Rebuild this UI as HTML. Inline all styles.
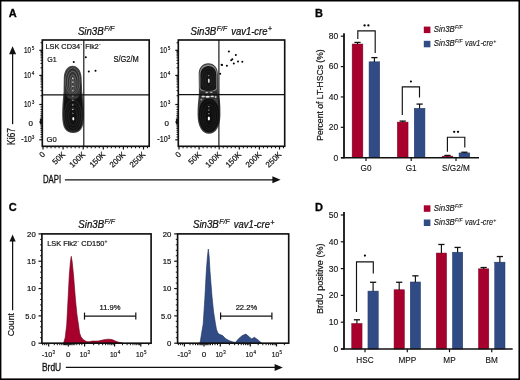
<!DOCTYPE html>
<html><head><meta charset="utf-8"><style>
html,body{margin:0;padding:0;background:#fff;}
#f{position:relative;width:520px;height:380px;overflow:hidden;background:#fff;}
#f svg{position:absolute;left:0;top:0;font-family:"Liberation Sans", sans-serif;filter:blur(0.4px);}
#f svg#b{filter:none;}
#bd{position:absolute;left:0;top:0;width:520px;height:380px;box-sizing:border-box;border:1px solid #000;box-shadow:inset 0.5px 0.5px 0 0.4px rgba(0,0,0,0.55), inset -1px -1px 0 0 rgba(0,0,0,0.8);}
</style></head><body><div id="f">
<svg width="520" height="380" viewBox="0 0 520 380">
<text x="8.80" y="16.80" font-size="11" font-weight="bold" fill="#000" stroke="#000" stroke-width="0.3">A</text>
<text x="314.90" y="16.70" font-size="11" font-weight="bold" fill="#000" stroke="#000" stroke-width="0.3">B</text>
<text x="8.80" y="210.90" font-size="11" font-weight="bold" fill="#000" stroke="#000" stroke-width="0.3">C</text>
<text x="314.90" y="210.80" font-size="11" font-weight="bold" fill="#000" stroke="#000" stroke-width="0.3">D</text>
<text x="77.90" y="34.50" font-size="10.1" font-style="italic" textLength="25.8" lengthAdjust="spacingAndGlyphs" fill="#111" stroke="#111" stroke-width="0.24">Sin3B</text>
<text x="104.20" y="30.50" font-size="6.8" font-style="italic" textLength="10.4" lengthAdjust="spacingAndGlyphs" fill="#111" stroke="#111" stroke-width="0.2">F/F</text>
<rect x="42.3" y="40.0" width="106.90" height="106.30" fill="none" stroke="#111" stroke-width="1.65"/>
<line x1="39.30" y1="50.30" x2="42.30" y2="50.30" stroke="#111" stroke-width="1.2"/>
<text x="24.10" y="52.90" font-size="8.6" textLength="7.0" lengthAdjust="spacingAndGlyphs" fill="#111" stroke="#111" stroke-width="0.2">10</text>
<text x="31.80" y="49.90" font-size="4.7" textLength="2.6" lengthAdjust="spacingAndGlyphs" fill="#111" stroke="#111" stroke-width="0.15">5</text>
<line x1="39.30" y1="75.40" x2="42.30" y2="75.40" stroke="#111" stroke-width="1.2"/>
<text x="24.10" y="78.00" font-size="8.6" textLength="7.0" lengthAdjust="spacingAndGlyphs" fill="#111" stroke="#111" stroke-width="0.2">10</text>
<text x="31.80" y="75.00" font-size="4.7" textLength="2.6" lengthAdjust="spacingAndGlyphs" fill="#111" stroke="#111" stroke-width="0.15">4</text>
<line x1="39.30" y1="104.50" x2="42.30" y2="104.50" stroke="#111" stroke-width="1.2"/>
<text x="24.10" y="107.10" font-size="8.6" textLength="7.0" lengthAdjust="spacingAndGlyphs" fill="#111" stroke="#111" stroke-width="0.2">10</text>
<text x="31.80" y="104.10" font-size="4.7" textLength="2.6" lengthAdjust="spacingAndGlyphs" fill="#111" stroke="#111" stroke-width="0.15">3</text>
<line x1="39.30" y1="122.00" x2="42.30" y2="122.00" stroke="#111" stroke-width="1.2"/>
<text x="30.70" y="125.50" font-size="8.0" text-anchor="middle" fill="#111" stroke="#111" stroke-width="0.2">0</text>
<rect x="39.90" y="118.8" width="2.4" height="5.8" fill="#111" opacity="0.95"/>
<line x1="39.30" y1="139.80" x2="42.30" y2="139.80" stroke="#111" stroke-width="1.2"/>
<text x="21.30" y="142.40" font-size="8.6" textLength="10.4" lengthAdjust="spacingAndGlyphs" fill="#111" stroke="#111" stroke-width="0.2">-10</text>
<text x="31.80" y="139.40" font-size="4.7" textLength="2.6" lengthAdjust="spacingAndGlyphs" fill="#111" stroke="#111" stroke-width="0.15">3</text>
<line x1="40.50" y1="95.74" x2="42.30" y2="95.74" stroke="#111" stroke-width="1.0"/>
<line x1="40.50" y1="90.62" x2="42.30" y2="90.62" stroke="#111" stroke-width="1.0"/>
<line x1="40.50" y1="86.98" x2="42.30" y2="86.98" stroke="#111" stroke-width="1.0"/>
<line x1="40.50" y1="84.16" x2="42.30" y2="84.16" stroke="#111" stroke-width="1.0"/>
<line x1="40.50" y1="81.86" x2="42.30" y2="81.86" stroke="#111" stroke-width="1.0"/>
<line x1="40.50" y1="79.91" x2="42.30" y2="79.91" stroke="#111" stroke-width="1.0"/>
<line x1="40.50" y1="78.22" x2="42.30" y2="78.22" stroke="#111" stroke-width="1.0"/>
<line x1="40.50" y1="76.73" x2="42.30" y2="76.73" stroke="#111" stroke-width="1.0"/>
<line x1="40.50" y1="67.84" x2="42.30" y2="67.84" stroke="#111" stroke-width="1.0"/>
<line x1="40.50" y1="63.42" x2="42.30" y2="63.42" stroke="#111" stroke-width="1.0"/>
<line x1="40.50" y1="60.29" x2="42.30" y2="60.29" stroke="#111" stroke-width="1.0"/>
<line x1="40.50" y1="57.86" x2="42.30" y2="57.86" stroke="#111" stroke-width="1.0"/>
<line x1="40.50" y1="55.87" x2="42.30" y2="55.87" stroke="#111" stroke-width="1.0"/>
<line x1="40.50" y1="54.19" x2="42.30" y2="54.19" stroke="#111" stroke-width="1.0"/>
<line x1="40.50" y1="52.73" x2="42.30" y2="52.73" stroke="#111" stroke-width="1.0"/>
<line x1="40.50" y1="51.45" x2="42.30" y2="51.45" stroke="#111" stroke-width="1.0"/>
<line x1="40.50" y1="42.74" x2="42.30" y2="42.74" stroke="#111" stroke-width="1.0"/>
<line x1="40.50" y1="107.00" x2="42.30" y2="107.00" stroke="#111" stroke-width="1.0"/>
<line x1="40.50" y1="109.50" x2="42.30" y2="109.50" stroke="#111" stroke-width="1.0"/>
<line x1="40.50" y1="111.80" x2="42.30" y2="111.80" stroke="#111" stroke-width="1.0"/>
<line x1="40.50" y1="113.80" x2="42.30" y2="113.80" stroke="#111" stroke-width="1.0"/>
<line x1="40.50" y1="115.50" x2="42.30" y2="115.50" stroke="#111" stroke-width="1.0"/>
<line x1="40.50" y1="117.00" x2="42.30" y2="117.00" stroke="#111" stroke-width="1.0"/>
<line x1="40.50" y1="118.20" x2="42.30" y2="118.20" stroke="#111" stroke-width="1.0"/>
<line x1="40.50" y1="125.80" x2="42.30" y2="125.80" stroke="#111" stroke-width="1.0"/>
<line x1="40.50" y1="127.00" x2="42.30" y2="127.00" stroke="#111" stroke-width="1.0"/>
<line x1="40.50" y1="128.50" x2="42.30" y2="128.50" stroke="#111" stroke-width="1.0"/>
<line x1="40.50" y1="130.20" x2="42.30" y2="130.20" stroke="#111" stroke-width="1.0"/>
<line x1="40.50" y1="132.20" x2="42.30" y2="132.20" stroke="#111" stroke-width="1.0"/>
<line x1="40.50" y1="134.50" x2="42.30" y2="134.50" stroke="#111" stroke-width="1.0"/>
<line x1="40.50" y1="137.00" x2="42.30" y2="137.00" stroke="#111" stroke-width="1.0"/>
<line x1="43.00" y1="146.30" x2="43.00" y2="149.50" stroke="#111" stroke-width="1.2"/>
<line x1="47.02" y1="146.30" x2="47.02" y2="148.30" stroke="#111" stroke-width="1.0"/>
<line x1="51.04" y1="146.30" x2="51.04" y2="148.30" stroke="#111" stroke-width="1.0"/>
<line x1="55.06" y1="146.30" x2="55.06" y2="148.30" stroke="#111" stroke-width="1.0"/>
<line x1="59.08" y1="146.30" x2="59.08" y2="148.30" stroke="#111" stroke-width="1.0"/>
<line x1="63.10" y1="146.30" x2="63.10" y2="149.50" stroke="#111" stroke-width="1.2"/>
<line x1="67.12" y1="146.30" x2="67.12" y2="148.30" stroke="#111" stroke-width="1.0"/>
<line x1="71.14" y1="146.30" x2="71.14" y2="148.30" stroke="#111" stroke-width="1.0"/>
<line x1="75.16" y1="146.30" x2="75.16" y2="148.30" stroke="#111" stroke-width="1.0"/>
<line x1="79.18" y1="146.30" x2="79.18" y2="148.30" stroke="#111" stroke-width="1.0"/>
<line x1="83.20" y1="146.30" x2="83.20" y2="149.50" stroke="#111" stroke-width="1.2"/>
<line x1="87.22" y1="146.30" x2="87.22" y2="148.30" stroke="#111" stroke-width="1.0"/>
<line x1="91.24" y1="146.30" x2="91.24" y2="148.30" stroke="#111" stroke-width="1.0"/>
<line x1="95.26" y1="146.30" x2="95.26" y2="148.30" stroke="#111" stroke-width="1.0"/>
<line x1="99.28" y1="146.30" x2="99.28" y2="148.30" stroke="#111" stroke-width="1.0"/>
<line x1="103.30" y1="146.30" x2="103.30" y2="149.50" stroke="#111" stroke-width="1.2"/>
<line x1="107.32" y1="146.30" x2="107.32" y2="148.30" stroke="#111" stroke-width="1.0"/>
<line x1="111.34" y1="146.30" x2="111.34" y2="148.30" stroke="#111" stroke-width="1.0"/>
<line x1="115.36" y1="146.30" x2="115.36" y2="148.30" stroke="#111" stroke-width="1.0"/>
<line x1="119.38" y1="146.30" x2="119.38" y2="148.30" stroke="#111" stroke-width="1.0"/>
<line x1="123.40" y1="146.30" x2="123.40" y2="149.50" stroke="#111" stroke-width="1.2"/>
<line x1="127.42" y1="146.30" x2="127.42" y2="148.30" stroke="#111" stroke-width="1.0"/>
<line x1="131.44" y1="146.30" x2="131.44" y2="148.30" stroke="#111" stroke-width="1.0"/>
<line x1="135.46" y1="146.30" x2="135.46" y2="148.30" stroke="#111" stroke-width="1.0"/>
<line x1="139.48" y1="146.30" x2="139.48" y2="148.30" stroke="#111" stroke-width="1.0"/>
<line x1="143.50" y1="146.30" x2="143.50" y2="149.50" stroke="#111" stroke-width="1.2"/>
<line x1="147.52" y1="146.30" x2="147.52" y2="148.30" stroke="#111" stroke-width="1.0"/>
<text x="45.60" y="154.90" font-size="8.0" text-anchor="end" transform="rotate(-45 45.60 154.90)" fill="#111" stroke="#111" stroke-width="0.2">0</text>
<text x="65.70" y="154.90" font-size="8.0" text-anchor="end" transform="rotate(-45 65.70 154.90)" fill="#111" stroke="#111" stroke-width="0.2">50K</text>
<text x="85.80" y="154.90" font-size="8.0" text-anchor="end" transform="rotate(-45 85.80 154.90)" fill="#111" stroke="#111" stroke-width="0.2">100K</text>
<text x="105.90" y="154.90" font-size="8.0" text-anchor="end" transform="rotate(-45 105.90 154.90)" fill="#111" stroke="#111" stroke-width="0.2">150K</text>
<text x="126.00" y="154.90" font-size="8.0" text-anchor="end" transform="rotate(-45 126.00 154.90)" fill="#111" stroke="#111" stroke-width="0.2">200K</text>
<text x="146.10" y="154.90" font-size="8.0" text-anchor="end" transform="rotate(-45 146.10 154.90)" fill="#111" stroke="#111" stroke-width="0.2">250K</text>
<text x="190.50" y="34.50" font-size="10.1" font-style="italic" textLength="25.8" lengthAdjust="spacingAndGlyphs" fill="#111" stroke="#111" stroke-width="0.24">Sin3B</text>
<text x="216.80" y="30.50" font-size="6.8" font-style="italic" textLength="10.4" lengthAdjust="spacingAndGlyphs" fill="#111" stroke="#111" stroke-width="0.2">F/F</text>
<text x="231.30" y="34.50" font-size="10.1" font-style="italic" textLength="36.2" lengthAdjust="spacingAndGlyphs" fill="#111" stroke="#111" stroke-width="0.24">vav1-cre</text>
<text x="267.90" y="31.20" font-size="6.6" font-style="italic" fill="#111" stroke="#111" stroke-width="0.25">+</text>
<rect x="178.3" y="40.0" width="106.40" height="106.30" fill="none" stroke="#111" stroke-width="1.65"/>
<line x1="175.30" y1="50.30" x2="178.30" y2="50.30" stroke="#111" stroke-width="1.2"/>
<text x="160.10" y="52.90" font-size="8.6" textLength="7.0" lengthAdjust="spacingAndGlyphs" fill="#111" stroke="#111" stroke-width="0.2">10</text>
<text x="167.80" y="49.90" font-size="4.7" textLength="2.6" lengthAdjust="spacingAndGlyphs" fill="#111" stroke="#111" stroke-width="0.15">5</text>
<line x1="175.30" y1="75.40" x2="178.30" y2="75.40" stroke="#111" stroke-width="1.2"/>
<text x="160.10" y="78.00" font-size="8.6" textLength="7.0" lengthAdjust="spacingAndGlyphs" fill="#111" stroke="#111" stroke-width="0.2">10</text>
<text x="167.80" y="75.00" font-size="4.7" textLength="2.6" lengthAdjust="spacingAndGlyphs" fill="#111" stroke="#111" stroke-width="0.15">4</text>
<line x1="175.30" y1="104.50" x2="178.30" y2="104.50" stroke="#111" stroke-width="1.2"/>
<text x="160.10" y="107.10" font-size="8.6" textLength="7.0" lengthAdjust="spacingAndGlyphs" fill="#111" stroke="#111" stroke-width="0.2">10</text>
<text x="167.80" y="104.10" font-size="4.7" textLength="2.6" lengthAdjust="spacingAndGlyphs" fill="#111" stroke="#111" stroke-width="0.15">3</text>
<line x1="175.30" y1="122.00" x2="178.30" y2="122.00" stroke="#111" stroke-width="1.2"/>
<text x="166.70" y="125.50" font-size="8.0" text-anchor="middle" fill="#111" stroke="#111" stroke-width="0.2">0</text>
<rect x="175.90" y="118.8" width="2.4" height="5.8" fill="#111" opacity="0.95"/>
<line x1="175.30" y1="139.80" x2="178.30" y2="139.80" stroke="#111" stroke-width="1.2"/>
<text x="157.30" y="142.40" font-size="8.6" textLength="10.4" lengthAdjust="spacingAndGlyphs" fill="#111" stroke="#111" stroke-width="0.2">-10</text>
<text x="167.80" y="139.40" font-size="4.7" textLength="2.6" lengthAdjust="spacingAndGlyphs" fill="#111" stroke="#111" stroke-width="0.15">3</text>
<line x1="176.50" y1="95.74" x2="178.30" y2="95.74" stroke="#111" stroke-width="1.0"/>
<line x1="176.50" y1="90.62" x2="178.30" y2="90.62" stroke="#111" stroke-width="1.0"/>
<line x1="176.50" y1="86.98" x2="178.30" y2="86.98" stroke="#111" stroke-width="1.0"/>
<line x1="176.50" y1="84.16" x2="178.30" y2="84.16" stroke="#111" stroke-width="1.0"/>
<line x1="176.50" y1="81.86" x2="178.30" y2="81.86" stroke="#111" stroke-width="1.0"/>
<line x1="176.50" y1="79.91" x2="178.30" y2="79.91" stroke="#111" stroke-width="1.0"/>
<line x1="176.50" y1="78.22" x2="178.30" y2="78.22" stroke="#111" stroke-width="1.0"/>
<line x1="176.50" y1="76.73" x2="178.30" y2="76.73" stroke="#111" stroke-width="1.0"/>
<line x1="176.50" y1="67.84" x2="178.30" y2="67.84" stroke="#111" stroke-width="1.0"/>
<line x1="176.50" y1="63.42" x2="178.30" y2="63.42" stroke="#111" stroke-width="1.0"/>
<line x1="176.50" y1="60.29" x2="178.30" y2="60.29" stroke="#111" stroke-width="1.0"/>
<line x1="176.50" y1="57.86" x2="178.30" y2="57.86" stroke="#111" stroke-width="1.0"/>
<line x1="176.50" y1="55.87" x2="178.30" y2="55.87" stroke="#111" stroke-width="1.0"/>
<line x1="176.50" y1="54.19" x2="178.30" y2="54.19" stroke="#111" stroke-width="1.0"/>
<line x1="176.50" y1="52.73" x2="178.30" y2="52.73" stroke="#111" stroke-width="1.0"/>
<line x1="176.50" y1="51.45" x2="178.30" y2="51.45" stroke="#111" stroke-width="1.0"/>
<line x1="176.50" y1="42.74" x2="178.30" y2="42.74" stroke="#111" stroke-width="1.0"/>
<line x1="176.50" y1="107.00" x2="178.30" y2="107.00" stroke="#111" stroke-width="1.0"/>
<line x1="176.50" y1="109.50" x2="178.30" y2="109.50" stroke="#111" stroke-width="1.0"/>
<line x1="176.50" y1="111.80" x2="178.30" y2="111.80" stroke="#111" stroke-width="1.0"/>
<line x1="176.50" y1="113.80" x2="178.30" y2="113.80" stroke="#111" stroke-width="1.0"/>
<line x1="176.50" y1="115.50" x2="178.30" y2="115.50" stroke="#111" stroke-width="1.0"/>
<line x1="176.50" y1="117.00" x2="178.30" y2="117.00" stroke="#111" stroke-width="1.0"/>
<line x1="176.50" y1="118.20" x2="178.30" y2="118.20" stroke="#111" stroke-width="1.0"/>
<line x1="176.50" y1="125.80" x2="178.30" y2="125.80" stroke="#111" stroke-width="1.0"/>
<line x1="176.50" y1="127.00" x2="178.30" y2="127.00" stroke="#111" stroke-width="1.0"/>
<line x1="176.50" y1="128.50" x2="178.30" y2="128.50" stroke="#111" stroke-width="1.0"/>
<line x1="176.50" y1="130.20" x2="178.30" y2="130.20" stroke="#111" stroke-width="1.0"/>
<line x1="176.50" y1="132.20" x2="178.30" y2="132.20" stroke="#111" stroke-width="1.0"/>
<line x1="176.50" y1="134.50" x2="178.30" y2="134.50" stroke="#111" stroke-width="1.0"/>
<line x1="176.50" y1="137.00" x2="178.30" y2="137.00" stroke="#111" stroke-width="1.0"/>
<line x1="179.00" y1="146.30" x2="179.00" y2="149.50" stroke="#111" stroke-width="1.2"/>
<line x1="183.02" y1="146.30" x2="183.02" y2="148.30" stroke="#111" stroke-width="1.0"/>
<line x1="187.04" y1="146.30" x2="187.04" y2="148.30" stroke="#111" stroke-width="1.0"/>
<line x1="191.06" y1="146.30" x2="191.06" y2="148.30" stroke="#111" stroke-width="1.0"/>
<line x1="195.08" y1="146.30" x2="195.08" y2="148.30" stroke="#111" stroke-width="1.0"/>
<line x1="199.10" y1="146.30" x2="199.10" y2="149.50" stroke="#111" stroke-width="1.2"/>
<line x1="203.12" y1="146.30" x2="203.12" y2="148.30" stroke="#111" stroke-width="1.0"/>
<line x1="207.14" y1="146.30" x2="207.14" y2="148.30" stroke="#111" stroke-width="1.0"/>
<line x1="211.16" y1="146.30" x2="211.16" y2="148.30" stroke="#111" stroke-width="1.0"/>
<line x1="215.18" y1="146.30" x2="215.18" y2="148.30" stroke="#111" stroke-width="1.0"/>
<line x1="219.20" y1="146.30" x2="219.20" y2="149.50" stroke="#111" stroke-width="1.2"/>
<line x1="223.22" y1="146.30" x2="223.22" y2="148.30" stroke="#111" stroke-width="1.0"/>
<line x1="227.24" y1="146.30" x2="227.24" y2="148.30" stroke="#111" stroke-width="1.0"/>
<line x1="231.26" y1="146.30" x2="231.26" y2="148.30" stroke="#111" stroke-width="1.0"/>
<line x1="235.28" y1="146.30" x2="235.28" y2="148.30" stroke="#111" stroke-width="1.0"/>
<line x1="239.30" y1="146.30" x2="239.30" y2="149.50" stroke="#111" stroke-width="1.2"/>
<line x1="243.32" y1="146.30" x2="243.32" y2="148.30" stroke="#111" stroke-width="1.0"/>
<line x1="247.34" y1="146.30" x2="247.34" y2="148.30" stroke="#111" stroke-width="1.0"/>
<line x1="251.36" y1="146.30" x2="251.36" y2="148.30" stroke="#111" stroke-width="1.0"/>
<line x1="255.38" y1="146.30" x2="255.38" y2="148.30" stroke="#111" stroke-width="1.0"/>
<line x1="259.40" y1="146.30" x2="259.40" y2="149.50" stroke="#111" stroke-width="1.2"/>
<line x1="263.42" y1="146.30" x2="263.42" y2="148.30" stroke="#111" stroke-width="1.0"/>
<line x1="267.44" y1="146.30" x2="267.44" y2="148.30" stroke="#111" stroke-width="1.0"/>
<line x1="271.46" y1="146.30" x2="271.46" y2="148.30" stroke="#111" stroke-width="1.0"/>
<line x1="275.48" y1="146.30" x2="275.48" y2="148.30" stroke="#111" stroke-width="1.0"/>
<line x1="279.50" y1="146.30" x2="279.50" y2="149.50" stroke="#111" stroke-width="1.2"/>
<line x1="283.52" y1="146.30" x2="283.52" y2="148.30" stroke="#111" stroke-width="1.0"/>
<text x="181.60" y="154.90" font-size="8.0" text-anchor="end" transform="rotate(-45 181.60 154.90)" fill="#111" stroke="#111" stroke-width="0.2">0</text>
<text x="201.70" y="154.90" font-size="8.0" text-anchor="end" transform="rotate(-45 201.70 154.90)" fill="#111" stroke="#111" stroke-width="0.2">50K</text>
<text x="221.80" y="154.90" font-size="8.0" text-anchor="end" transform="rotate(-45 221.80 154.90)" fill="#111" stroke="#111" stroke-width="0.2">100K</text>
<text x="241.90" y="154.90" font-size="8.0" text-anchor="end" transform="rotate(-45 241.90 154.90)" fill="#111" stroke="#111" stroke-width="0.2">150K</text>
<text x="262.00" y="154.90" font-size="8.0" text-anchor="end" transform="rotate(-45 262.00 154.90)" fill="#111" stroke="#111" stroke-width="0.2">200K</text>
<text x="282.10" y="154.90" font-size="8.0" text-anchor="end" transform="rotate(-45 282.10 154.90)" fill="#111" stroke="#111" stroke-width="0.2">250K</text>
<text x="45.40" y="49.20" font-size="7.4" textLength="34.8" lengthAdjust="spacingAndGlyphs" fill="#111" stroke="#111" stroke-width="0.2">LSK CD34</text>
<text x="80.40" y="46.00" font-size="5" fill="#111" stroke="#111" stroke-width="0.15">-</text>
<text x="85.30" y="49.20" font-size="7.4" textLength="13.3" lengthAdjust="spacingAndGlyphs" fill="#111" stroke="#111" stroke-width="0.2">Flk2</text>
<text x="98.90" y="46.00" font-size="5" fill="#111" stroke="#111" stroke-width="0.15">-</text>
<text x="47.20" y="62.30" font-size="8.0" textLength="9.4" lengthAdjust="spacingAndGlyphs" fill="#111" stroke="#111" stroke-width="0.2">G1</text>
<text x="113.50" y="62.30" font-size="8.3" textLength="25.3" lengthAdjust="spacingAndGlyphs" fill="#111" stroke="#111" stroke-width="0.2">S/G2/M</text>
<text x="46.60" y="141.70" font-size="8.0" textLength="10.2" lengthAdjust="spacingAndGlyphs" fill="#111" stroke="#111" stroke-width="0.2">G0</text>
<g>
<path d="M72.6,65.8 C77.4,65.8 81.4,70.5 81.6,78 L82.2,92 C83.6,99 84.0,107 84.0,115 C84.0,128.5 80.5,133.0 73.2,133.0 C65.9,133.0 62.2,128.5 62.2,115 C62.2,107 62.8,99 63.6,92 L63.8,78 C64.0,70.5 67.8,65.8 72.6,65.8 Z" fill="#444"/>
<path d="M72.6,67.2 C76.6,67.2 80.2,71.3 80.4,78 L80.9,92 C82.3,99 82.8,107 82.8,115 C82.8,127.5 79.6,131.8 73.2,131.8 C66.8,131.8 63.4,127.5 63.4,115 C63.4,107 64.0,99 64.9,92 L65.0,78 C65.2,71.3 68.6,67.2 72.6,67.2 Z" fill="#111"/>
<path d="M72.6,67.6 C76.6,67.6 80.0,71.5 80.1,78.5 L80.4,92 C80.4,96.5 76.8,99.5 72.7,99.5 C68.8,99.5 65.2,96.5 65.2,92 L65.4,78.5 C65.5,71.5 68.6,67.6 72.6,67.6 Z" fill="#3a3a3a"/>
<ellipse cx="72.7" cy="81" rx="7.3" ry="13.4" fill="none" stroke="#8a8a8a" stroke-width="0.5"/>
<ellipse cx="72.7" cy="81.6" rx="6.3" ry="12.2" fill="none" stroke="#222" stroke-width="0.6"/>
<ellipse cx="72.7" cy="82.2" rx="5.3" ry="11" fill="none" stroke="#888" stroke-width="0.5"/>
<ellipse cx="72.7" cy="82.8" rx="4.3" ry="9.8" fill="none" stroke="#222" stroke-width="0.6"/>
<ellipse cx="72.7" cy="83.4" rx="3.3" ry="8.6" fill="none" stroke="#8a8a8a" stroke-width="0.5"/>
<ellipse cx="72.7" cy="84" rx="2.3" ry="7.4" fill="none" stroke="#333" stroke-width="0.5"/>
<ellipse cx="72.7" cy="84.6" rx="1.4" ry="6.2" fill="none" stroke="#999" stroke-width="0.4"/>
<ellipse cx="73" cy="115.5" rx="8.6" ry="15.5" fill="none" stroke="#3a3a3a" stroke-width="0.6"/>
<ellipse cx="73" cy="116" rx="6.6" ry="12.5" fill="none" stroke="#333" stroke-width="0.5"/>
<ellipse cx="73" cy="116.5" rx="4.4" ry="9" fill="none" stroke="#3a3a3a" stroke-width="0.5"/>
<path d="M72.85,77.20 l0.9,1.00 l-0.9,1.00 l-0.9,-1.00 Z" fill="#f4f4f4"/>
<path d="M72.85,81.20 l0.9,0.90 l-0.9,0.90 l-0.9,-0.90 Z" fill="#e6e6e6"/>
<path d="M72.85,85.50 l0.9,0.80 l-0.9,0.80 l-0.9,-0.80 Z" fill="#ddd"/>
<path d="M72.85,90.00 l0.9,0.80 l-0.9,0.80 l-0.9,-0.80 Z" fill="#d0d0d0"/>
<path d="M72.85,95.00 l0.9,0.90 l-0.9,0.90 l-0.9,-0.90 Z" fill="#bbb"/>
<path d="M72.85,99.50 l0.9,0.80 l-0.9,0.80 l-0.9,-0.80 Z" fill="#aaa"/>
<path d="M72.85,104.00 l0.9,0.90 l-0.9,0.90 l-0.9,-0.90 Z" fill="#bbb"/>
<path d="M72.85,108.50 l0.9,0.90 l-0.9,0.90 l-0.9,-0.90 Z" fill="#ccc"/>
<path d="M72.85,112.50 l0.9,0.80 l-0.9,0.80 l-0.9,-0.80 Z" fill="#999"/>
<ellipse cx="73.3" cy="118.7" rx="1.0" ry="1.8" fill="#fff"/>
</g>
<g>
<path d="M208.3,63.2 C214,63.2 217.9,67.3 217.9,74 L218.2,90 C218.6,94 219.4,97 219.9,101 C220.4,105 220.4,110 220.4,115 C220.4,126.5 215.6,133.8 209,133.8 C202.4,133.8 197.6,126.5 197.6,115 C197.6,110 197.7,105 198.2,101 C198.6,97 199.0,94 198.9,90 L198.7,74 C198.7,67.3 202.6,63.2 208.3,63.2 Z" fill="#3c3c3c"/>
<path d="M208.4,64.4 C213.6,64.4 217.1,68.3 217.1,74.5 L217.1,88 C217.1,90.3 213.6,91.8 208.4,91.8 C203.2,91.8 199.5,90.3 199.5,88 L199.5,74.5 C199.5,68.3 203.2,64.4 208.4,64.4 Z" fill="#8a8a8a"/>
<path d="M208.5,66.0 C213.0,66.0 216.3,69.5 216.3,75 L216.3,87.5 C216.3,89.8 213.0,91.0 208.5,91.0 C204.0,91.0 200.4,89.8 200.4,87.5 L200.4,75 C200.4,69.5 204.0,66.0 208.5,66.0 Z" fill="#141414"/>
<path d="M208.8,98.6 C214.8,98.6 219.2,104.5 219.2,114.8 C219.2,125.8 214.8,132.4 209,132.4 C203.2,132.4 198.8,125.8 198.8,114.8 C198.8,104.5 202.9,98.6 208.8,98.6 Z" fill="#0e0e0e"/>
<path d="M200.2,91.5 L217.0,91.5 L218.0,99 L199.6,99 Z" fill="#2a2a2a"/>
<ellipse cx="203.2" cy="96.4" rx="1.8" ry="1.0" fill="#d8d8d8"/>
<ellipse cx="207.6" cy="96.8" rx="2.2" ry="1.0" fill="#f0f0f0"/>
<ellipse cx="212.2" cy="96.4" rx="1.8" ry="0.9" fill="#e0e0e0"/>
<ellipse cx="215.6" cy="97.0" rx="1.0" ry="1.2" fill="#bbb"/>
<ellipse cx="206.8" cy="92.6" rx="1.6" ry="0.7" fill="#c8c8c8"/>
<ellipse cx="211.2" cy="92.4" rx="1.4" ry="0.7" fill="#aaa"/>
<ellipse cx="201.4" cy="99.6" rx="1.0" ry="1.0" fill="#999"/>
<ellipse cx="208.5" cy="79.5" rx="6.8" ry="11.5" fill="none" stroke="#2e2e2e" stroke-width="0.55"/>
<ellipse cx="208.5" cy="80" rx="4.8" ry="9" fill="none" stroke="#282828" stroke-width="0.55"/>
<ellipse cx="208.5" cy="80.5" rx="3.0" ry="6.5" fill="none" stroke="#2e2e2e" stroke-width="0.55"/>
<ellipse cx="209" cy="115.5" rx="8.6" ry="15.0" fill="none" stroke="#262626" stroke-width="0.55"/>
<ellipse cx="209" cy="116.5" rx="6.4" ry="12" fill="none" stroke="#2a2a2a" stroke-width="0.55"/>
<ellipse cx="209" cy="117" rx="4.2" ry="8.5" fill="none" stroke="#262626" stroke-width="0.55"/>
<ellipse cx="208.8" cy="80.8" rx="0.9" ry="2.2" fill="#ddd"/>
<rect x="208.2" y="75" width="1.1" height="1.3" fill="#888"/>
<rect x="208.3" y="106" width="1.1" height="1.3" fill="#999"/>
<rect x="208.3" y="109.5" width="1.1" height="1.3" fill="#999"/>
<rect x="208.3" y="113" width="1.1" height="1.3" fill="#999"/>
<ellipse cx="208.9" cy="118.4" rx="1.1" ry="2.0" fill="#fff"/>
</g>
<line x1="83.80" y1="40.00" x2="83.80" y2="146.30" stroke="#111" stroke-width="1.15"/>
<line x1="42.30" y1="94.80" x2="149.20" y2="94.80" stroke="#111" stroke-width="1.15"/>
<line x1="218.90" y1="40.00" x2="218.90" y2="146.30" stroke="#111" stroke-width="1.15"/>
<line x1="178.30" y1="94.60" x2="284.70" y2="94.60" stroke="#111" stroke-width="1.15"/>
<circle cx="73.75" cy="61.9" r="1.0" fill="#000"/>
<circle cx="85.8" cy="57.3" r="1.0" fill="#000"/>
<circle cx="88.8" cy="71.6" r="1.0" fill="#000"/>
<circle cx="95.5" cy="70.7" r="1.0" fill="#000"/>
<circle cx="228.9" cy="51.5" r="1.0" fill="#000"/>
<circle cx="235.8" cy="55.1" r="1.0" fill="#000"/>
<circle cx="232.3" cy="59.2" r="1.0" fill="#000"/>
<circle cx="231.2" cy="60.3" r="1.0" fill="#000"/>
<circle cx="238" cy="61.5" r="1.0" fill="#000"/>
<circle cx="242.3" cy="61.8" r="1.0" fill="#000"/>
<circle cx="233.8" cy="63.4" r="1.0" fill="#000"/>
<circle cx="222" cy="65.1" r="1.0" fill="#000"/>
<circle cx="226.9" cy="65.8" r="1.0" fill="#000"/>
<circle cx="221.6" cy="64.8" r="1.0" fill="#000"/>
<circle cx="220.2" cy="73.8" r="1.0" fill="#000"/>
<line x1="12.60" y1="53.00" x2="12.60" y2="124.20" stroke="#111" stroke-width="1.25"/>
<path d="M12.6,46.3 L16.1,54.3 L9.1,54.3 Z" fill="#111"/>
<text x="15.10" y="145.00" font-size="10.0" textLength="17.1" lengthAdjust="spacingAndGlyphs" transform="rotate(-90 15.10 145.00)" fill="#111" stroke="#111" stroke-width="0.2">Ki67</text>
<text x="43.00" y="182.70" font-size="10.3" textLength="18.1" lengthAdjust="spacingAndGlyphs" fill="#111" stroke="#111" stroke-width="0.3">DAPI</text>
<line x1="64.90" y1="179.80" x2="273.00" y2="179.80" stroke="#111" stroke-width="1.25"/>
<path d="M280.6,179.8 L272.4,176.3 L272.4,183.3 Z" fill="#111"/>
<text x="78.30" y="228.00" font-size="10.1" font-style="italic" textLength="25.8" lengthAdjust="spacingAndGlyphs" fill="#111" stroke="#111" stroke-width="0.24">Sin3B</text>
<text x="104.60" y="224.00" font-size="6.8" font-style="italic" textLength="10.4" lengthAdjust="spacingAndGlyphs" fill="#111" stroke="#111" stroke-width="0.2">F/F</text>
<path d="M63.5,343.2 L64.2,341 L65.2,337.5 L66.7,325 L68,300 L69.3,275 L70.4,262 L71.25,256.3 L72.2,262 L73.5,275 L75.5,300 L77,315 L78.5,325 L79.6,333 L81,336.8 L83,339.4 L86.5,341.6 L89,341.8 L92.3,341.1 L98,341.1 L102.7,340 L106,339.4 L109,339.2 L112,339.6 L115.4,341 L118,342 L120,342.6 L123,343.2 Z" fill="#a8002c" stroke="#6a0018" stroke-width="0.6" stroke-linejoin="round"/>
<rect x="41.90" y="233.9" width="109.20" height="109.30" fill="none" stroke="#111" stroke-width="1.65"/>
<line x1="38.50" y1="343.20" x2="41.90" y2="343.20" stroke="#111" stroke-width="1.2"/>
<line x1="40.10" y1="337.74" x2="41.90" y2="337.74" stroke="#111" stroke-width="1.0"/>
<line x1="40.10" y1="332.27" x2="41.90" y2="332.27" stroke="#111" stroke-width="1.0"/>
<line x1="40.10" y1="326.81" x2="41.90" y2="326.81" stroke="#111" stroke-width="1.0"/>
<line x1="40.10" y1="321.34" x2="41.90" y2="321.34" stroke="#111" stroke-width="1.0"/>
<line x1="38.50" y1="315.88" x2="41.90" y2="315.88" stroke="#111" stroke-width="1.2"/>
<line x1="40.10" y1="310.41" x2="41.90" y2="310.41" stroke="#111" stroke-width="1.0"/>
<line x1="40.10" y1="304.94" x2="41.90" y2="304.94" stroke="#111" stroke-width="1.0"/>
<line x1="40.10" y1="299.48" x2="41.90" y2="299.48" stroke="#111" stroke-width="1.0"/>
<line x1="40.10" y1="294.01" x2="41.90" y2="294.01" stroke="#111" stroke-width="1.0"/>
<line x1="38.50" y1="288.55" x2="41.90" y2="288.55" stroke="#111" stroke-width="1.2"/>
<line x1="40.10" y1="283.08" x2="41.90" y2="283.08" stroke="#111" stroke-width="1.0"/>
<line x1="40.10" y1="277.62" x2="41.90" y2="277.62" stroke="#111" stroke-width="1.0"/>
<line x1="40.10" y1="272.15" x2="41.90" y2="272.15" stroke="#111" stroke-width="1.0"/>
<line x1="40.10" y1="266.69" x2="41.90" y2="266.69" stroke="#111" stroke-width="1.0"/>
<line x1="38.50" y1="261.23" x2="41.90" y2="261.23" stroke="#111" stroke-width="1.2"/>
<line x1="40.10" y1="255.76" x2="41.90" y2="255.76" stroke="#111" stroke-width="1.0"/>
<line x1="40.10" y1="250.30" x2="41.90" y2="250.30" stroke="#111" stroke-width="1.0"/>
<line x1="40.10" y1="244.83" x2="41.90" y2="244.83" stroke="#111" stroke-width="1.0"/>
<line x1="40.10" y1="239.37" x2="41.90" y2="239.37" stroke="#111" stroke-width="1.0"/>
<line x1="38.50" y1="233.90" x2="41.90" y2="233.90" stroke="#111" stroke-width="1.2"/>
<text x="35.70" y="236.60" font-size="7.8" text-anchor="end" textLength="8.6" lengthAdjust="spacingAndGlyphs" fill="#111" stroke="#111" stroke-width="0.2">20</text>
<text x="35.70" y="263.93" font-size="7.8" text-anchor="end" textLength="8.6" lengthAdjust="spacingAndGlyphs" fill="#111" stroke="#111" stroke-width="0.2">15</text>
<text x="35.70" y="291.25" font-size="7.8" text-anchor="end" textLength="8.6" lengthAdjust="spacingAndGlyphs" fill="#111" stroke="#111" stroke-width="0.2">10</text>
<text x="35.70" y="318.57" font-size="7.8" text-anchor="end" textLength="10.4" lengthAdjust="spacingAndGlyphs" fill="#111" stroke="#111" stroke-width="0.2">5.0</text>
<text x="35.70" y="345.90" font-size="7.8" text-anchor="end" fill="#111" stroke="#111" stroke-width="0.2">0</text>
<line x1="48.70" y1="343.20" x2="48.70" y2="346.40" stroke="#111" stroke-width="1.2"/>
<line x1="68.30" y1="343.20" x2="68.30" y2="346.40" stroke="#111" stroke-width="1.2"/>
<line x1="84.60" y1="343.20" x2="84.60" y2="346.40" stroke="#111" stroke-width="1.2"/>
<line x1="114.60" y1="343.20" x2="114.60" y2="346.40" stroke="#111" stroke-width="1.2"/>
<line x1="140.80" y1="343.20" x2="140.80" y2="346.40" stroke="#111" stroke-width="1.2"/>
<line x1="93.63" y1="343.20" x2="93.63" y2="345.20" stroke="#111" stroke-width="1.0"/>
<line x1="98.91" y1="343.20" x2="98.91" y2="345.20" stroke="#111" stroke-width="1.0"/>
<line x1="102.66" y1="343.20" x2="102.66" y2="345.20" stroke="#111" stroke-width="1.0"/>
<line x1="105.57" y1="343.20" x2="105.57" y2="345.20" stroke="#111" stroke-width="1.0"/>
<line x1="107.94" y1="343.20" x2="107.94" y2="345.20" stroke="#111" stroke-width="1.0"/>
<line x1="109.95" y1="343.20" x2="109.95" y2="345.20" stroke="#111" stroke-width="1.0"/>
<line x1="111.69" y1="343.20" x2="111.69" y2="345.20" stroke="#111" stroke-width="1.0"/>
<line x1="113.23" y1="343.20" x2="113.23" y2="345.20" stroke="#111" stroke-width="1.0"/>
<line x1="122.49" y1="343.20" x2="122.49" y2="345.20" stroke="#111" stroke-width="1.0"/>
<line x1="127.10" y1="343.20" x2="127.10" y2="345.20" stroke="#111" stroke-width="1.0"/>
<line x1="130.37" y1="343.20" x2="130.37" y2="345.20" stroke="#111" stroke-width="1.0"/>
<line x1="132.91" y1="343.20" x2="132.91" y2="345.20" stroke="#111" stroke-width="1.0"/>
<line x1="134.99" y1="343.20" x2="134.99" y2="345.20" stroke="#111" stroke-width="1.0"/>
<line x1="136.74" y1="343.20" x2="136.74" y2="345.20" stroke="#111" stroke-width="1.0"/>
<line x1="138.26" y1="343.20" x2="138.26" y2="345.20" stroke="#111" stroke-width="1.0"/>
<line x1="139.60" y1="343.20" x2="139.60" y2="345.20" stroke="#111" stroke-width="1.0"/>
<line x1="148.69" y1="343.20" x2="148.69" y2="345.20" stroke="#111" stroke-width="1.0"/>
<line x1="54.30" y1="343.20" x2="54.30" y2="345.20" stroke="#111" stroke-width="1.0"/>
<line x1="57.30" y1="343.20" x2="57.30" y2="345.20" stroke="#111" stroke-width="1.0"/>
<line x1="59.80" y1="343.20" x2="59.80" y2="345.20" stroke="#111" stroke-width="1.0"/>
<line x1="61.80" y1="343.20" x2="61.80" y2="345.20" stroke="#111" stroke-width="1.0"/>
<line x1="63.30" y1="343.20" x2="63.30" y2="345.20" stroke="#111" stroke-width="1.0"/>
<line x1="64.50" y1="343.20" x2="64.50" y2="345.20" stroke="#111" stroke-width="1.0"/>
<line x1="65.50" y1="343.20" x2="65.50" y2="345.20" stroke="#111" stroke-width="1.0"/>
<line x1="66.40" y1="343.20" x2="66.40" y2="345.20" stroke="#111" stroke-width="1.0"/>
<line x1="67.30" y1="343.20" x2="67.30" y2="345.20" stroke="#111" stroke-width="1.0"/>
<line x1="69.30" y1="343.20" x2="69.30" y2="345.20" stroke="#111" stroke-width="1.0"/>
<line x1="70.20" y1="343.20" x2="70.20" y2="345.20" stroke="#111" stroke-width="1.0"/>
<line x1="71.10" y1="343.20" x2="71.10" y2="345.20" stroke="#111" stroke-width="1.0"/>
<line x1="72.10" y1="343.20" x2="72.10" y2="345.20" stroke="#111" stroke-width="1.0"/>
<line x1="73.30" y1="343.20" x2="73.30" y2="345.20" stroke="#111" stroke-width="1.0"/>
<line x1="74.80" y1="343.20" x2="74.80" y2="345.20" stroke="#111" stroke-width="1.0"/>
<line x1="76.80" y1="343.20" x2="76.80" y2="345.20" stroke="#111" stroke-width="1.0"/>
<line x1="79.30" y1="343.20" x2="79.30" y2="345.20" stroke="#111" stroke-width="1.0"/>
<line x1="81.80" y1="343.20" x2="81.80" y2="345.20" stroke="#111" stroke-width="1.0"/>
<line x1="42.70" y1="343.20" x2="42.70" y2="345.20" stroke="#111" stroke-width="1.0"/>
<line x1="44.70" y1="343.20" x2="44.70" y2="345.20" stroke="#111" stroke-width="1.0"/>
<line x1="46.70" y1="343.20" x2="46.70" y2="345.20" stroke="#111" stroke-width="1.0"/>
<text x="41.80" y="356.60" font-size="8.0" textLength="10.4" lengthAdjust="spacingAndGlyphs" fill="#111" stroke="#111" stroke-width="0.2">-10</text>
<text x="52.60" y="354.20" font-size="4.5" textLength="2.5" lengthAdjust="spacingAndGlyphs" fill="#111" stroke="#111" stroke-width="0.15">3</text>
<text x="68.30" y="356.60" font-size="8.0" text-anchor="middle" fill="#111" stroke="#111" stroke-width="0.2">0</text>
<text x="79.70" y="356.60" font-size="8.0" textLength="7.4" lengthAdjust="spacingAndGlyphs" fill="#111" stroke="#111" stroke-width="0.2">10</text>
<text x="87.50" y="354.20" font-size="4.5" textLength="2.5" lengthAdjust="spacingAndGlyphs" fill="#111" stroke="#111" stroke-width="0.15">3</text>
<text x="109.90" y="356.60" font-size="8.0" textLength="7.4" lengthAdjust="spacingAndGlyphs" fill="#111" stroke="#111" stroke-width="0.2">10</text>
<text x="117.70" y="354.20" font-size="4.5" textLength="2.5" lengthAdjust="spacingAndGlyphs" fill="#111" stroke="#111" stroke-width="0.15">4</text>
<text x="136.10" y="356.60" font-size="8.0" textLength="7.4" lengthAdjust="spacingAndGlyphs" fill="#111" stroke="#111" stroke-width="0.2">10</text>
<text x="143.90" y="354.20" font-size="4.5" textLength="2.5" lengthAdjust="spacingAndGlyphs" fill="#111" stroke="#111" stroke-width="0.15">5</text>
<line x1="84.50" y1="316.10" x2="135.80" y2="316.10" stroke="#111" stroke-width="1.2"/>
<line x1="84.50" y1="312.60" x2="84.50" y2="319.60" stroke="#111" stroke-width="1.2"/>
<line x1="135.80" y1="312.60" x2="135.80" y2="319.60" stroke="#111" stroke-width="1.2"/>
<text x="110.00" y="310.40" font-size="7.6" text-anchor="middle" fill="#111" stroke="#111" stroke-width="0.2">11.9%</text>
<text x="193.00" y="228.00" font-size="10.1" font-style="italic" textLength="25.8" lengthAdjust="spacingAndGlyphs" fill="#111" stroke="#111" stroke-width="0.24">Sin3B</text>
<text x="219.30" y="224.00" font-size="6.8" font-style="italic" textLength="10.4" lengthAdjust="spacingAndGlyphs" fill="#111" stroke="#111" stroke-width="0.2">F/F</text>
<text x="233.80" y="228.00" font-size="10.1" font-style="italic" textLength="36.2" lengthAdjust="spacingAndGlyphs" fill="#111" stroke="#111" stroke-width="0.24">vav1-cre</text>
<text x="270.40" y="224.70" font-size="6.6" font-style="italic" fill="#111" stroke="#111" stroke-width="0.25">+</text>
<path d="M199.6,343.3 L200.4,341 L201.4,334.5 L203.2,324 L204.9,297.6 L206.3,271.3 L207.4,257 L208.3,249 L209.2,257 L210,271.3 L212.1,297.6 L213.6,312 L215.5,324 L216.5,329.5 L218,333.3 L220,334.6 L222.7,335.6 L224.5,337.5 L226.1,339 L229.6,340.8 L233,341.9 L235.4,342.4 L237,340.6 L238.8,338.5 L242.3,335.6 L245.8,334.1 L249.2,336.7 L251.5,339 L254.4,337.3 L258.4,340.2 L261.9,343.3 Z" fill="#314b84" stroke="#1c2f5a" stroke-width="0.6" stroke-linejoin="round"/>
<rect x="177.60" y="233.9" width="111.10" height="109.30" fill="none" stroke="#111" stroke-width="1.65"/>
<line x1="174.20" y1="343.20" x2="177.60" y2="343.20" stroke="#111" stroke-width="1.2"/>
<line x1="175.80" y1="337.74" x2="177.60" y2="337.74" stroke="#111" stroke-width="1.0"/>
<line x1="175.80" y1="332.27" x2="177.60" y2="332.27" stroke="#111" stroke-width="1.0"/>
<line x1="175.80" y1="326.81" x2="177.60" y2="326.81" stroke="#111" stroke-width="1.0"/>
<line x1="175.80" y1="321.34" x2="177.60" y2="321.34" stroke="#111" stroke-width="1.0"/>
<line x1="174.20" y1="315.88" x2="177.60" y2="315.88" stroke="#111" stroke-width="1.2"/>
<line x1="175.80" y1="310.41" x2="177.60" y2="310.41" stroke="#111" stroke-width="1.0"/>
<line x1="175.80" y1="304.94" x2="177.60" y2="304.94" stroke="#111" stroke-width="1.0"/>
<line x1="175.80" y1="299.48" x2="177.60" y2="299.48" stroke="#111" stroke-width="1.0"/>
<line x1="175.80" y1="294.01" x2="177.60" y2="294.01" stroke="#111" stroke-width="1.0"/>
<line x1="174.20" y1="288.55" x2="177.60" y2="288.55" stroke="#111" stroke-width="1.2"/>
<line x1="175.80" y1="283.08" x2="177.60" y2="283.08" stroke="#111" stroke-width="1.0"/>
<line x1="175.80" y1="277.62" x2="177.60" y2="277.62" stroke="#111" stroke-width="1.0"/>
<line x1="175.80" y1="272.15" x2="177.60" y2="272.15" stroke="#111" stroke-width="1.0"/>
<line x1="175.80" y1="266.69" x2="177.60" y2="266.69" stroke="#111" stroke-width="1.0"/>
<line x1="174.20" y1="261.23" x2="177.60" y2="261.23" stroke="#111" stroke-width="1.2"/>
<line x1="175.80" y1="255.76" x2="177.60" y2="255.76" stroke="#111" stroke-width="1.0"/>
<line x1="175.80" y1="250.30" x2="177.60" y2="250.30" stroke="#111" stroke-width="1.0"/>
<line x1="175.80" y1="244.83" x2="177.60" y2="244.83" stroke="#111" stroke-width="1.0"/>
<line x1="175.80" y1="239.37" x2="177.60" y2="239.37" stroke="#111" stroke-width="1.0"/>
<line x1="174.20" y1="233.90" x2="177.60" y2="233.90" stroke="#111" stroke-width="1.2"/>
<text x="171.40" y="236.60" font-size="7.8" text-anchor="end" textLength="8.6" lengthAdjust="spacingAndGlyphs" fill="#111" stroke="#111" stroke-width="0.2">20</text>
<text x="171.40" y="263.93" font-size="7.8" text-anchor="end" textLength="8.6" lengthAdjust="spacingAndGlyphs" fill="#111" stroke="#111" stroke-width="0.2">15</text>
<text x="171.40" y="291.25" font-size="7.8" text-anchor="end" textLength="8.6" lengthAdjust="spacingAndGlyphs" fill="#111" stroke="#111" stroke-width="0.2">10</text>
<text x="171.40" y="318.57" font-size="7.8" text-anchor="end" textLength="10.4" lengthAdjust="spacingAndGlyphs" fill="#111" stroke="#111" stroke-width="0.2">5.0</text>
<text x="171.40" y="345.90" font-size="7.8" text-anchor="end" fill="#111" stroke="#111" stroke-width="0.2">0</text>
<line x1="184.40" y1="343.20" x2="184.40" y2="346.40" stroke="#111" stroke-width="1.2"/>
<line x1="204.00" y1="343.20" x2="204.00" y2="346.40" stroke="#111" stroke-width="1.2"/>
<line x1="220.30" y1="343.20" x2="220.30" y2="346.40" stroke="#111" stroke-width="1.2"/>
<line x1="250.30" y1="343.20" x2="250.30" y2="346.40" stroke="#111" stroke-width="1.2"/>
<line x1="276.50" y1="343.20" x2="276.50" y2="346.40" stroke="#111" stroke-width="1.2"/>
<line x1="229.33" y1="343.20" x2="229.33" y2="345.20" stroke="#111" stroke-width="1.0"/>
<line x1="234.61" y1="343.20" x2="234.61" y2="345.20" stroke="#111" stroke-width="1.0"/>
<line x1="238.36" y1="343.20" x2="238.36" y2="345.20" stroke="#111" stroke-width="1.0"/>
<line x1="241.27" y1="343.20" x2="241.27" y2="345.20" stroke="#111" stroke-width="1.0"/>
<line x1="243.64" y1="343.20" x2="243.64" y2="345.20" stroke="#111" stroke-width="1.0"/>
<line x1="245.65" y1="343.20" x2="245.65" y2="345.20" stroke="#111" stroke-width="1.0"/>
<line x1="247.39" y1="343.20" x2="247.39" y2="345.20" stroke="#111" stroke-width="1.0"/>
<line x1="248.93" y1="343.20" x2="248.93" y2="345.20" stroke="#111" stroke-width="1.0"/>
<line x1="258.19" y1="343.20" x2="258.19" y2="345.20" stroke="#111" stroke-width="1.0"/>
<line x1="262.80" y1="343.20" x2="262.80" y2="345.20" stroke="#111" stroke-width="1.0"/>
<line x1="266.07" y1="343.20" x2="266.07" y2="345.20" stroke="#111" stroke-width="1.0"/>
<line x1="268.61" y1="343.20" x2="268.61" y2="345.20" stroke="#111" stroke-width="1.0"/>
<line x1="270.69" y1="343.20" x2="270.69" y2="345.20" stroke="#111" stroke-width="1.0"/>
<line x1="272.44" y1="343.20" x2="272.44" y2="345.20" stroke="#111" stroke-width="1.0"/>
<line x1="273.96" y1="343.20" x2="273.96" y2="345.20" stroke="#111" stroke-width="1.0"/>
<line x1="275.30" y1="343.20" x2="275.30" y2="345.20" stroke="#111" stroke-width="1.0"/>
<line x1="284.39" y1="343.20" x2="284.39" y2="345.20" stroke="#111" stroke-width="1.0"/>
<line x1="190.00" y1="343.20" x2="190.00" y2="345.20" stroke="#111" stroke-width="1.0"/>
<line x1="193.00" y1="343.20" x2="193.00" y2="345.20" stroke="#111" stroke-width="1.0"/>
<line x1="195.50" y1="343.20" x2="195.50" y2="345.20" stroke="#111" stroke-width="1.0"/>
<line x1="197.50" y1="343.20" x2="197.50" y2="345.20" stroke="#111" stroke-width="1.0"/>
<line x1="199.00" y1="343.20" x2="199.00" y2="345.20" stroke="#111" stroke-width="1.0"/>
<line x1="200.20" y1="343.20" x2="200.20" y2="345.20" stroke="#111" stroke-width="1.0"/>
<line x1="201.20" y1="343.20" x2="201.20" y2="345.20" stroke="#111" stroke-width="1.0"/>
<line x1="202.10" y1="343.20" x2="202.10" y2="345.20" stroke="#111" stroke-width="1.0"/>
<line x1="203.00" y1="343.20" x2="203.00" y2="345.20" stroke="#111" stroke-width="1.0"/>
<line x1="205.00" y1="343.20" x2="205.00" y2="345.20" stroke="#111" stroke-width="1.0"/>
<line x1="205.90" y1="343.20" x2="205.90" y2="345.20" stroke="#111" stroke-width="1.0"/>
<line x1="206.80" y1="343.20" x2="206.80" y2="345.20" stroke="#111" stroke-width="1.0"/>
<line x1="207.80" y1="343.20" x2="207.80" y2="345.20" stroke="#111" stroke-width="1.0"/>
<line x1="209.00" y1="343.20" x2="209.00" y2="345.20" stroke="#111" stroke-width="1.0"/>
<line x1="210.50" y1="343.20" x2="210.50" y2="345.20" stroke="#111" stroke-width="1.0"/>
<line x1="212.50" y1="343.20" x2="212.50" y2="345.20" stroke="#111" stroke-width="1.0"/>
<line x1="215.00" y1="343.20" x2="215.00" y2="345.20" stroke="#111" stroke-width="1.0"/>
<line x1="217.50" y1="343.20" x2="217.50" y2="345.20" stroke="#111" stroke-width="1.0"/>
<line x1="178.40" y1="343.20" x2="178.40" y2="345.20" stroke="#111" stroke-width="1.0"/>
<line x1="180.40" y1="343.20" x2="180.40" y2="345.20" stroke="#111" stroke-width="1.0"/>
<line x1="182.40" y1="343.20" x2="182.40" y2="345.20" stroke="#111" stroke-width="1.0"/>
<text x="177.50" y="356.60" font-size="8.0" textLength="10.4" lengthAdjust="spacingAndGlyphs" fill="#111" stroke="#111" stroke-width="0.2">-10</text>
<text x="188.30" y="354.20" font-size="4.5" textLength="2.5" lengthAdjust="spacingAndGlyphs" fill="#111" stroke="#111" stroke-width="0.15">3</text>
<text x="204.00" y="356.60" font-size="8.0" text-anchor="middle" fill="#111" stroke="#111" stroke-width="0.2">0</text>
<text x="215.40" y="356.60" font-size="8.0" textLength="7.4" lengthAdjust="spacingAndGlyphs" fill="#111" stroke="#111" stroke-width="0.2">10</text>
<text x="223.20" y="354.20" font-size="4.5" textLength="2.5" lengthAdjust="spacingAndGlyphs" fill="#111" stroke="#111" stroke-width="0.15">3</text>
<text x="245.60" y="356.60" font-size="8.0" textLength="7.4" lengthAdjust="spacingAndGlyphs" fill="#111" stroke="#111" stroke-width="0.2">10</text>
<text x="253.40" y="354.20" font-size="4.5" textLength="2.5" lengthAdjust="spacingAndGlyphs" fill="#111" stroke="#111" stroke-width="0.15">4</text>
<text x="271.80" y="356.60" font-size="8.0" textLength="7.4" lengthAdjust="spacingAndGlyphs" fill="#111" stroke="#111" stroke-width="0.2">10</text>
<text x="279.60" y="354.20" font-size="4.5" textLength="2.5" lengthAdjust="spacingAndGlyphs" fill="#111" stroke="#111" stroke-width="0.15">5</text>
<line x1="220.60" y1="316.10" x2="271.90" y2="316.10" stroke="#111" stroke-width="1.2"/>
<line x1="220.60" y1="312.60" x2="220.60" y2="319.60" stroke="#111" stroke-width="1.2"/>
<line x1="271.90" y1="312.60" x2="271.90" y2="319.60" stroke="#111" stroke-width="1.2"/>
<text x="246.40" y="310.40" font-size="7.6" text-anchor="middle" fill="#111" stroke="#111" stroke-width="0.2">22.2%</text>
<text x="47.20" y="245.60" font-size="7.4" textLength="29.9" lengthAdjust="spacingAndGlyphs" fill="#111" stroke="#111" stroke-width="0.2">LSK Flk2</text>
<text x="77.60" y="242.60" font-size="5" fill="#111" stroke="#111" stroke-width="0.15">-</text>
<text x="81.30" y="245.60" font-size="7.4" textLength="23.1" lengthAdjust="spacingAndGlyphs" fill="#111" stroke="#111" stroke-width="0.2">CD150</text>
<text x="104.60" y="242.80" font-size="5" fill="#111" stroke="#111" stroke-width="0.15">+</text>
<line x1="12.60" y1="241.00" x2="12.60" y2="310.20" stroke="#111" stroke-width="1.25"/>
<path d="M12.6,234.4 L15.7,241.6 L9.5,241.6 Z" fill="#111"/>
<text x="14.50" y="336.30" font-size="8.8" textLength="23.2" lengthAdjust="spacingAndGlyphs" transform="rotate(-90 14.50 336.30)" fill="#111" stroke="#111" stroke-width="0.2">Count</text>
<text x="42.00" y="370.50" font-size="10.0" textLength="19.2" lengthAdjust="spacingAndGlyphs" fill="#111" stroke="#111" stroke-width="0.3">BrdU</text>
<line x1="65.80" y1="367.40" x2="276.00" y2="367.40" stroke="#111" stroke-width="1.25"/>
<path d="M282.8,367.4 L274.6,363.9 L274.6,370.9 Z" fill="#111"/>
<rect x="352.15" y="44.04" width="10.70" height="113.66" fill="#a8002c" stroke="#7a001e" stroke-width="0.5"/>
<line x1="357.50" y1="42.43" x2="357.50" y2="44.29" stroke="#111" stroke-width="1.15"/>
<line x1="354.40" y1="42.43" x2="360.60" y2="42.43" stroke="#111" stroke-width="1.3"/>
<rect x="369.05" y="61.81" width="10.70" height="95.89" fill="#314b84" stroke="#233a68" stroke-width="0.5"/>
<line x1="374.40" y1="57.61" x2="374.40" y2="62.06" stroke="#111" stroke-width="1.15"/>
<line x1="371.30" y1="57.61" x2="377.50" y2="57.61" stroke="#111" stroke-width="1.3"/>
<rect x="397.35" y="122.11" width="10.70" height="35.59" fill="#a8002c" stroke="#7a001e" stroke-width="0.5"/>
<line x1="402.70" y1="121.10" x2="402.70" y2="122.36" stroke="#111" stroke-width="1.15"/>
<line x1="399.60" y1="121.10" x2="405.80" y2="121.10" stroke="#111" stroke-width="1.3"/>
<rect x="414.25" y="108.29" width="10.70" height="49.41" fill="#314b84" stroke="#233a68" stroke-width="0.5"/>
<line x1="419.60" y1="104.09" x2="419.60" y2="108.54" stroke="#111" stroke-width="1.15"/>
<line x1="416.50" y1="104.09" x2="422.70" y2="104.09" stroke="#111" stroke-width="1.3"/>
<rect x="442.15" y="156.13" width="10.70" height="1.57" fill="#a8002c" stroke="#7a001e" stroke-width="0.5"/>
<line x1="447.50" y1="155.42" x2="447.50" y2="156.38" stroke="#111" stroke-width="1.15"/>
<line x1="444.40" y1="155.42" x2="450.60" y2="155.42" stroke="#111" stroke-width="1.3"/>
<rect x="459.05" y="152.94" width="10.70" height="4.76" fill="#314b84" stroke="#233a68" stroke-width="0.5"/>
<line x1="464.40" y1="152.23" x2="464.40" y2="153.19" stroke="#111" stroke-width="1.15"/>
<line x1="461.30" y1="152.23" x2="467.50" y2="152.23" stroke="#111" stroke-width="1.3"/>
<line x1="344.00" y1="33.20" x2="344.00" y2="158.30" stroke="#111" stroke-width="1.8"/>
<line x1="340.80" y1="157.70" x2="344.00" y2="157.70" stroke="#111" stroke-width="1.2"/>
<text x="338.30" y="160.60" font-size="8.5" text-anchor="end" fill="#111" stroke="#111" stroke-width="0.12">0</text>
<line x1="340.80" y1="127.32" x2="344.00" y2="127.32" stroke="#111" stroke-width="1.2"/>
<text x="338.30" y="130.22" font-size="8.5" text-anchor="end" fill="#111" stroke="#111" stroke-width="0.12">20</text>
<line x1="340.80" y1="96.95" x2="344.00" y2="96.95" stroke="#111" stroke-width="1.2"/>
<text x="338.30" y="99.85" font-size="8.5" text-anchor="end" fill="#111" stroke="#111" stroke-width="0.12">40</text>
<line x1="340.80" y1="66.58" x2="344.00" y2="66.58" stroke="#111" stroke-width="1.2"/>
<text x="338.30" y="69.48" font-size="8.5" text-anchor="end" fill="#111" stroke="#111" stroke-width="0.12">60</text>
<line x1="340.80" y1="36.20" x2="344.00" y2="36.20" stroke="#111" stroke-width="1.2"/>
<text x="338.30" y="39.10" font-size="8.5" text-anchor="end" fill="#111" stroke="#111" stroke-width="0.12">80</text>
<line x1="341.00" y1="157.70" x2="479.00" y2="157.70" stroke="#111" stroke-width="1.45"/>
<line x1="366.00" y1="157.70" x2="366.00" y2="160.90" stroke="#111" stroke-width="1.2"/>
<text x="366.00" y="171.30" font-size="8.2" text-anchor="middle" fill="#111" stroke="#111" stroke-width="0.12">G0</text>
<line x1="411.20" y1="157.70" x2="411.20" y2="160.90" stroke="#111" stroke-width="1.2"/>
<text x="411.20" y="171.30" font-size="8.2" text-anchor="middle" fill="#111" stroke="#111" stroke-width="0.12">G1</text>
<line x1="456.00" y1="157.70" x2="456.00" y2="160.90" stroke="#111" stroke-width="1.2"/>
<text x="456.00" y="171.30" font-size="8.2" text-anchor="middle" fill="#111" stroke="#111" stroke-width="0.12">S/G2/M</text>
<text x="323.40" y="140.80" font-size="8.6" textLength="91.5" lengthAdjust="spacingAndGlyphs" transform="rotate(-90 323.40 140.80)" fill="#111" stroke="#111" stroke-width="0.2">Percent of LT-HSCs (%)</text>
<rect x="423.80" y="26.60" width="6.60" height="6.50" fill="#a8002c"/>
<rect x="423.80" y="40.80" width="6.60" height="6.50" fill="#314b84"/>
<text x="433.80" y="32.20" font-size="8.3" font-style="italic" textLength="21.0" lengthAdjust="spacingAndGlyphs" fill="#111" stroke="#111" stroke-width="0.12">Sin3B</text>
<text x="455.00" y="29.10" font-size="5.4" font-style="italic" textLength="7.4" lengthAdjust="spacingAndGlyphs" fill="#111" stroke="#111" stroke-width="0.1">F/F</text>
<text x="433.80" y="46.20" font-size="8.3" font-style="italic" textLength="21.0" lengthAdjust="spacingAndGlyphs" fill="#111" stroke="#111" stroke-width="0.12">Sin3B</text>
<text x="455.00" y="43.10" font-size="5.4" font-style="italic" textLength="7.4" lengthAdjust="spacingAndGlyphs" fill="#111" stroke="#111" stroke-width="0.1">F/F</text>
<text x="465.00" y="46.20" font-size="8.3" font-style="italic" textLength="28.0" lengthAdjust="spacingAndGlyphs" fill="#111" stroke="#111" stroke-width="0.12">vav1-cre</text>
<text x="493.20" y="43.10" font-size="5.2" font-style="italic" fill="#111" stroke="#111" stroke-width="0.1">+</text>
<path d="M357.8,38.9 L357.8,30.8 L375.2,30.8 L375.2,52.9" fill="none" stroke="#111" stroke-width="1.15"/>
<circle cx="364.6" cy="25.4" r="1.15" fill="#000"/>
<circle cx="368.4" cy="25.4" r="1.15" fill="#000"/>
<path d="M402.3,115 L402.3,86.8 L419.5,86.8 L419.5,97.5" fill="none" stroke="#111" stroke-width="1.15"/>
<circle cx="410.9" cy="81.5" r="1.1" fill="#000"/>
<path d="M447.4,151.8 L447.4,137.2 L464.8,137.2 L464.8,147.5" fill="none" stroke="#111" stroke-width="1.15"/>
<circle cx="454.20000000000005" cy="131.8" r="1.15" fill="#000"/>
<circle cx="458.0" cy="131.8" r="1.15" fill="#000"/>
<rect x="351.75" y="323.52" width="10.30" height="25.48" fill="#a8002c" stroke="#7a001e" stroke-width="0.5"/>
<line x1="356.90" y1="319.79" x2="356.90" y2="323.77" stroke="#111" stroke-width="1.15"/>
<line x1="353.80" y1="319.79" x2="360.00" y2="319.79" stroke="#111" stroke-width="1.3"/>
<rect x="367.95" y="291.09" width="10.30" height="57.91" fill="#314b84" stroke="#233a68" stroke-width="0.5"/>
<line x1="373.10" y1="282.27" x2="373.10" y2="291.34" stroke="#111" stroke-width="1.15"/>
<line x1="370.00" y1="282.27" x2="376.20" y2="282.27" stroke="#111" stroke-width="1.3"/>
<rect x="394.05" y="289.75" width="10.30" height="59.25" fill="#a8002c" stroke="#7a001e" stroke-width="0.5"/>
<line x1="399.20" y1="282.27" x2="399.20" y2="290.00" stroke="#111" stroke-width="1.15"/>
<line x1="396.10" y1="282.27" x2="402.30" y2="282.27" stroke="#111" stroke-width="1.3"/>
<rect x="410.25" y="281.98" width="10.30" height="67.02" fill="#314b84" stroke="#233a68" stroke-width="0.5"/>
<line x1="415.40" y1="275.84" x2="415.40" y2="282.23" stroke="#111" stroke-width="1.15"/>
<line x1="412.30" y1="275.84" x2="418.50" y2="275.84" stroke="#111" stroke-width="1.3"/>
<rect x="436.25" y="253.04" width="10.30" height="95.96" fill="#a8002c" stroke="#7a001e" stroke-width="0.5"/>
<line x1="441.40" y1="244.48" x2="441.40" y2="253.29" stroke="#111" stroke-width="1.15"/>
<line x1="438.30" y1="244.48" x2="444.50" y2="244.48" stroke="#111" stroke-width="1.3"/>
<rect x="452.45" y="252.23" width="10.30" height="96.77" fill="#314b84" stroke="#233a68" stroke-width="0.5"/>
<line x1="457.60" y1="247.43" x2="457.60" y2="252.48" stroke="#111" stroke-width="1.15"/>
<line x1="454.50" y1="247.43" x2="460.70" y2="247.43" stroke="#111" stroke-width="1.3"/>
<rect x="478.50" y="268.85" width="10.30" height="80.15" fill="#a8002c" stroke="#7a001e" stroke-width="0.5"/>
<line x1="483.65" y1="267.53" x2="483.65" y2="269.10" stroke="#111" stroke-width="1.15"/>
<line x1="480.55" y1="267.53" x2="486.75" y2="267.53" stroke="#111" stroke-width="1.3"/>
<rect x="494.70" y="262.15" width="10.30" height="86.85" fill="#314b84" stroke="#233a68" stroke-width="0.5"/>
<line x1="499.85" y1="256.54" x2="499.85" y2="262.40" stroke="#111" stroke-width="1.15"/>
<line x1="496.75" y1="256.54" x2="502.95" y2="256.54" stroke="#111" stroke-width="1.3"/>
<line x1="344.00" y1="212.00" x2="344.00" y2="349.60" stroke="#111" stroke-width="1.8"/>
<line x1="340.80" y1="349.00" x2="344.00" y2="349.00" stroke="#111" stroke-width="1.2"/>
<text x="338.30" y="351.90" font-size="8.5" text-anchor="end" fill="#111" stroke="#111" stroke-width="0.12">0</text>
<line x1="340.80" y1="322.20" x2="344.00" y2="322.20" stroke="#111" stroke-width="1.2"/>
<text x="338.30" y="325.10" font-size="8.5" text-anchor="end" fill="#111" stroke="#111" stroke-width="0.12">10</text>
<line x1="340.80" y1="295.40" x2="344.00" y2="295.40" stroke="#111" stroke-width="1.2"/>
<text x="338.30" y="298.30" font-size="8.5" text-anchor="end" fill="#111" stroke="#111" stroke-width="0.12">20</text>
<line x1="340.80" y1="268.60" x2="344.00" y2="268.60" stroke="#111" stroke-width="1.2"/>
<text x="338.30" y="271.50" font-size="8.5" text-anchor="end" fill="#111" stroke="#111" stroke-width="0.12">30</text>
<line x1="340.80" y1="241.80" x2="344.00" y2="241.80" stroke="#111" stroke-width="1.2"/>
<text x="338.30" y="244.70" font-size="8.5" text-anchor="end" fill="#111" stroke="#111" stroke-width="0.12">40</text>
<line x1="340.80" y1="215.00" x2="344.00" y2="215.00" stroke="#111" stroke-width="1.2"/>
<text x="338.30" y="217.90" font-size="8.5" text-anchor="end" fill="#111" stroke="#111" stroke-width="0.12">50</text>
<line x1="341.00" y1="349.00" x2="512.70" y2="349.00" stroke="#111" stroke-width="1.45"/>
<line x1="365.00" y1="349.00" x2="365.00" y2="352.20" stroke="#111" stroke-width="1.2"/>
<text x="365.00" y="362.60" font-size="8.2" text-anchor="middle" fill="#111" stroke="#111" stroke-width="0.12">HSC</text>
<line x1="407.30" y1="349.00" x2="407.30" y2="352.20" stroke="#111" stroke-width="1.2"/>
<text x="407.30" y="362.60" font-size="8.2" text-anchor="middle" fill="#111" stroke="#111" stroke-width="0.12">MPP</text>
<line x1="449.50" y1="349.00" x2="449.50" y2="352.20" stroke="#111" stroke-width="1.2"/>
<text x="449.50" y="362.60" font-size="8.2" text-anchor="middle" fill="#111" stroke="#111" stroke-width="0.12">MP</text>
<line x1="491.75" y1="349.00" x2="491.75" y2="352.20" stroke="#111" stroke-width="1.2"/>
<text x="491.75" y="362.60" font-size="8.2" text-anchor="middle" fill="#111" stroke="#111" stroke-width="0.12">BM</text>
<text x="323.40" y="314.00" font-size="8.6" textLength="70.5" lengthAdjust="spacingAndGlyphs" transform="rotate(-90 323.40 314.00)" fill="#111" stroke="#111" stroke-width="0.2">BrdU positive (%)</text>
<rect x="423.80" y="205.30" width="6.60" height="6.50" fill="#a8002c"/>
<rect x="423.80" y="219.50" width="6.60" height="6.50" fill="#314b84"/>
<text x="433.80" y="210.90" font-size="8.3" font-style="italic" textLength="21.0" lengthAdjust="spacingAndGlyphs" fill="#111" stroke="#111" stroke-width="0.12">Sin3B</text>
<text x="455.00" y="207.80" font-size="5.4" font-style="italic" textLength="7.4" lengthAdjust="spacingAndGlyphs" fill="#111" stroke="#111" stroke-width="0.1">F/F</text>
<text x="433.80" y="224.90" font-size="8.3" font-style="italic" textLength="21.0" lengthAdjust="spacingAndGlyphs" fill="#111" stroke="#111" stroke-width="0.12">Sin3B</text>
<text x="455.00" y="221.80" font-size="5.4" font-style="italic" textLength="7.4" lengthAdjust="spacingAndGlyphs" fill="#111" stroke="#111" stroke-width="0.1">F/F</text>
<text x="465.00" y="224.90" font-size="8.3" font-style="italic" textLength="28.0" lengthAdjust="spacingAndGlyphs" fill="#111" stroke="#111" stroke-width="0.12">vav1-cre</text>
<text x="493.20" y="221.80" font-size="5.2" font-style="italic" fill="#111" stroke="#111" stroke-width="0.1">+</text>
<path d="M356.5,312 L356.5,261.8 L373.3,261.8 L373.3,273.6" fill="none" stroke="#111" stroke-width="1.15"/>
<circle cx="364.9" cy="255.6" r="1.1" fill="#000"/>
</svg><svg id="b" width="520" height="380" viewBox="0 0 520 380">
<rect x="0" y="0" width="520" height="1" fill="#000"/>
<rect x="0" y="1" width="520" height="1" fill="rgba(0,0,0,0.5)"/>
<rect x="0" y="0" width="1" height="380" fill="#000"/>
<rect x="1" y="0" width="1" height="380" fill="rgba(0,0,0,0.4)"/>
<rect x="519" y="0" width="1" height="380" fill="#000"/>
<rect x="518" y="0" width="1" height="380" fill="rgba(0,0,0,0.55)"/>
<rect x="0" y="379" width="520" height="1" fill="#000"/>
<rect x="0" y="378" width="520" height="1" fill="rgba(0,0,0,0.6)"/>
</svg></div></body></html>
